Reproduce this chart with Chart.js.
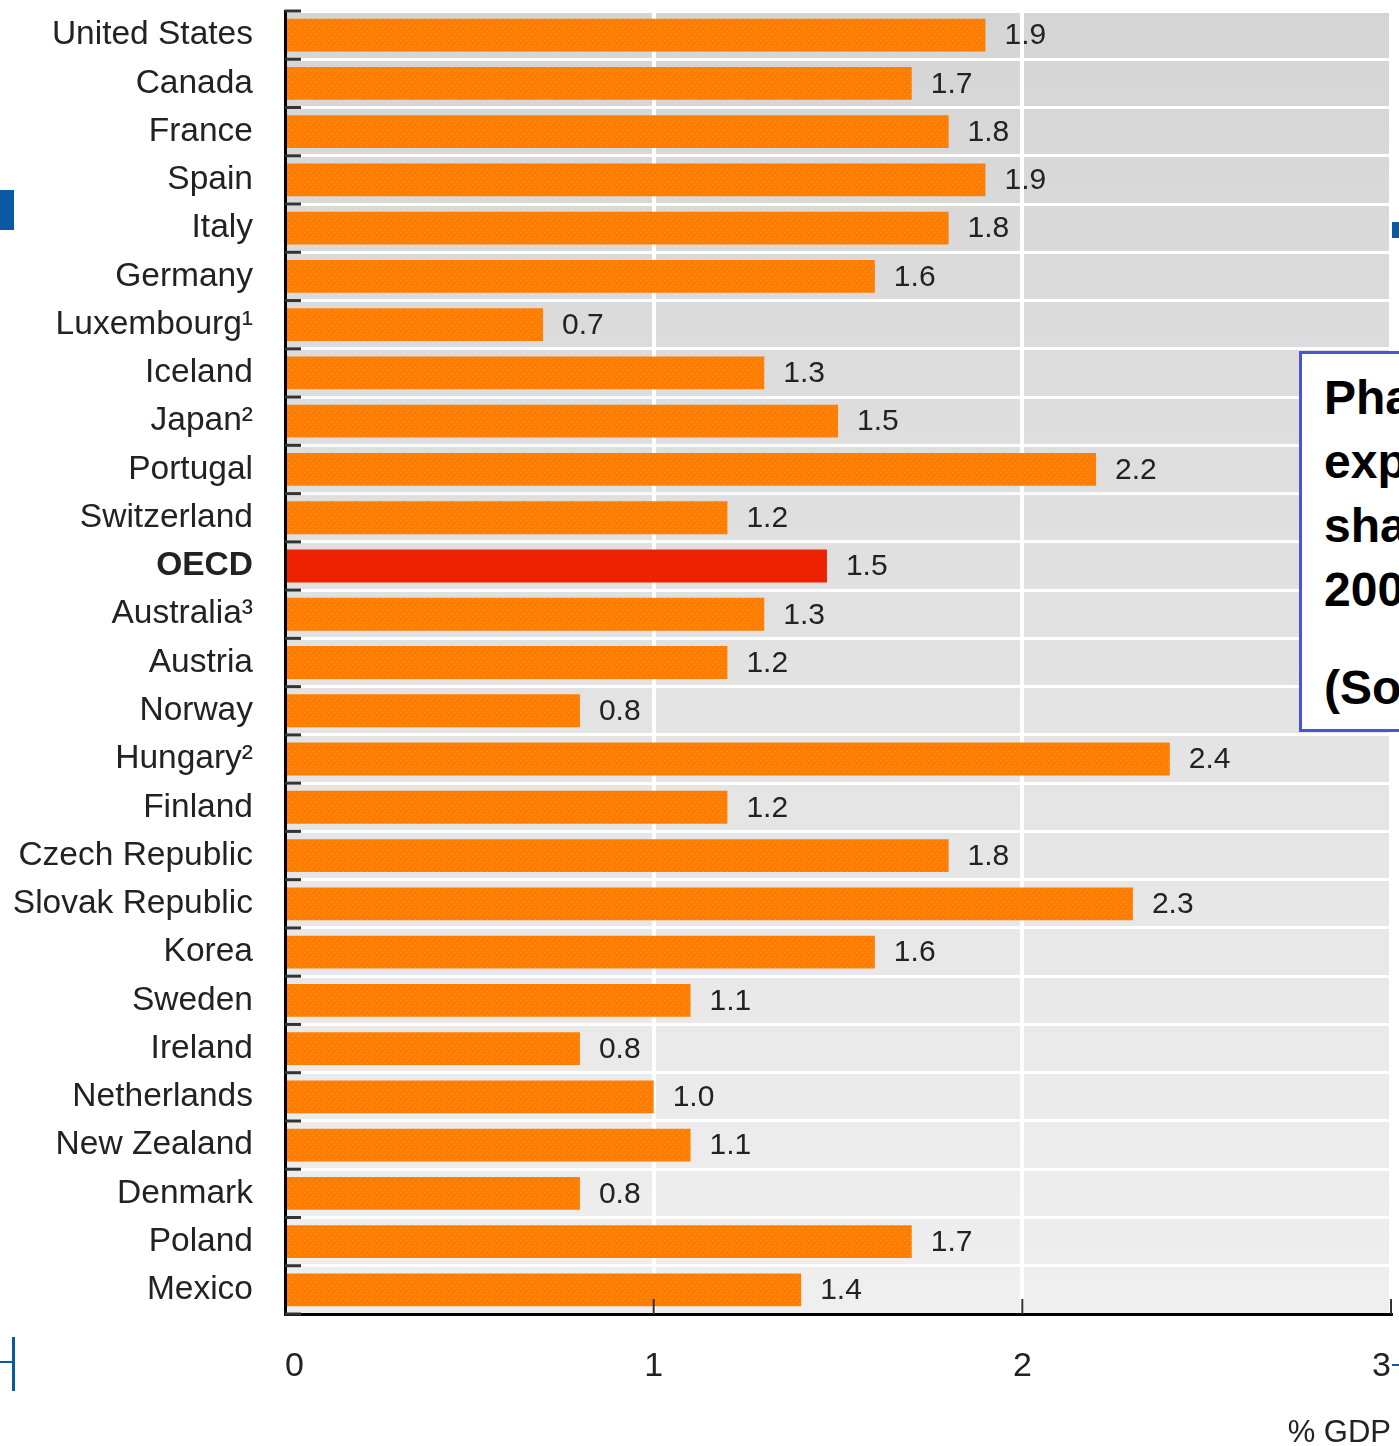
<!DOCTYPE html>
<html>
<head>
<meta charset="utf-8">
<title>Pharmaceutical expenditure as a share of GDP</title>
<script src="https://cdn.jsdelivr.net/npm/chart.js@4/dist/chart.umd.min.js"></script>
<style>
  html, body { margin: 0; padding: 0; background: #fff; overflow: hidden; }
  #wrap { position: relative; width: 1399px; height: 1446px; overflow: hidden; }
  #chart { position: absolute; left: 0; top: 0; }
  .note {
    position: absolute; left: 1299px; top: 351px; width: 320px; height: 381px;
    border: 3px solid #4b55d4; background: #fff; box-sizing: border-box;
    font-family: "Liberation Sans", Arial, sans-serif; font-weight: bold;
    font-size: 48px; line-height: 64px; color: #000; padding: 12px 0 0 22px;
    white-space: nowrap;
  }
  .note p { margin: 0; }
  .note .src { margin-top: 34px; }
  .deco { position: absolute; background: #0a5aa3; }
</style>
</head>
<body>
<div id="wrap">
  <canvas id="chart" width="1399" height="1446"></canvas>
  <div class="deco" style="left:0;top:190px;width:14px;height:40px"></div>
  <div class="deco" style="left:12px;top:1337px;width:3px;height:54px"></div>
  <div class="deco" style="left:0;top:1361px;width:13px;height:2px"></div>
  <div class="deco" style="left:1392px;top:222px;width:7px;height:16px"></div>
  <div class="deco" style="left:1392px;top:1364px;width:7px;height:2px"></div>
  <div class="note">
    <p>Pharmaceutical<br>expenditure as<br>share of GDP,<br>2005</p>
    <p class="src">(Source: OECD)</p>
  </div>
</div>
<script>
// Data
const countries = [
  "United States", "Canada", "France", "Spain", "Italy", "Germany",
  "Luxembourg¹", "Iceland", "Japan²", "Portugal", "Switzerland", "OECD",
  "Australia³", "Austria", "Norway", "Hungary²", "Finland", "Czech Republic",
  "Slovak Republic", "Korea", "Sweden", "Ireland", "Netherlands",
  "New Zealand", "Denmark", "Poland", "Mexico"
];
const shareGdp = [
  1.9, 1.7, 1.8, 1.9, 1.8, 1.6, 0.7, 1.3, 1.5, 2.2, 1.2, 1.47, 1.3, 1.2,
  0.8, 2.4, 1.2, 1.8, 2.3, 1.6, 1.1, 0.8, 1.0, 1.1, 0.8, 1.7, 1.4
];
const xTicks = [0, 1, 2, 3];
const highlight = "OECD";

const sans = '"Liberation Sans", Arial, sans-serif';

// dotted orange fill like the printed bars
function dottedFill() {
  const c = document.createElement("canvas");
  c.width = 6;
  c.height = 6;
  const g = c.getContext("2d");
  g.fillStyle = "#ff7d00";
  g.fillRect(0, 0, 6, 6);
  g.fillStyle = "#ff9a3a";
  g.fillRect(1, 1, 1, 1);
  g.fillRect(4, 4, 1, 1);
  return g.createPattern(c, "repeat");
}
const orange = dottedFill();

const panelBackground = {
  id: "panelBackground",
  beforeDraw(chart) {
    const { ctx, chartArea: a } = chart;
    const grad = ctx.createLinearGradient(0, a.top, 0, a.bottom);
    grad.addColorStop(0, "#d5d5d5");
    grad.addColorStop(1, "#efefef");
    ctx.save();
    ctx.fillStyle = grad;
    ctx.fillRect(a.left, a.top, a.right - a.left, a.bottom - a.top);
    ctx.restore();
  }
};

const innerTicks = {
  id: "innerTicks",
  afterDatasetsDraw(chart) {
    const { ctx, chartArea: a } = chart;
    const y = chart.scales.y;
    const x = chart.scales.x;
    ctx.save();
    ctx.strokeStyle = "#333";
    ctx.lineWidth = 3;
    for (let i = 0; i <= countries.length; i++) {
      const py = i === 0 ? a.top : (i === countries.length ? a.bottom :
        (y.getPixelForValue(i - 1) + y.getPixelForValue(i)) / 2);
      ctx.beginPath();
      ctx.moveTo(a.left, py);
      ctx.lineTo(a.left + 16, py);
      ctx.stroke();
    }
    ctx.lineWidth = 2;
    xTicks.slice(1).forEach(function (t) {
      const px = x.getPixelForValue(t);
      ctx.beginPath();
      ctx.moveTo(px, a.bottom);
      ctx.lineTo(px, a.bottom - 15);
      ctx.stroke();
    });
    ctx.restore();
  }
};

const valueLabels = {
  id: "valueLabels",
  afterDatasetsDraw(chart) {
    const { ctx } = chart;
    const meta = chart.getDatasetMeta(0);
    ctx.save();
    ctx.font = "30px " + sans;
    ctx.fillStyle = "#222";
    ctx.textAlign = "left";
    ctx.textBaseline = "middle";
    meta.data.forEach(function (bar, i) {
      ctx.fillText(shareGdp[i].toFixed(1), bar.x + 19, bar.y + 1);
    });
    ctx.restore();
  }
};

new Chart(document.getElementById("chart"), {
  type: "bar",
  data: {
    labels: countries,
    datasets: [{
      data: shareGdp,
      backgroundColor: countries.map(function (c) {
        return c === highlight ? "#ee2200" : orange;
      }),
      borderWidth: 0,
      barPercentage: 0.68,
      categoryPercentage: 1
    }]
  },
  options: {
    indexAxis: "y",
    responsive: false,
    animation: false,
    devicePixelRatio: 1,
    layout: { padding: { top: 11, right: 8, bottom: 0, left: 0 } },
    plugins: {
      legend: { display: false },
      tooltip: { enabled: false }
    },
    scales: {
      x: {
        min: 0,
        max: 3,
        afterBuildTicks: function (scale) {
          scale.ticks = xTicks.map(function (v) { return { value: v }; });
        },
        afterFit: function (scale) {
          scale.height = 132;
          scale.paddingLeft = 0;
          scale.paddingRight = 0;
        },
        grid: { color: "#ffffff", lineWidth: 4, drawTicks: false },
        border: { color: "#000", width: 3 },
        ticks: {
          padding: 32,
          align: "inner",
          color: "#222",
          font: { family: sans, size: 34 }
        },
        title: {
          display: true,
          text: "% GDP",
          align: "end",
          color: "#222",
          font: { family: sans, size: 31, lineHeight: 1 },
          padding: { top: 0, bottom: -3 }
        }
      },
      y: {
        afterFit: function (scale) {
          scale.width = 285;
          scale.paddingTop = 0;
          scale.paddingBottom = 0;
        },
        grid: { color: "#ffffff", lineWidth: 3, drawTicks: false, offset: true },
        border: { color: "#000", width: 3 },
        ticks: {
          padding: 32,
          color: "#222",
          font: function (ctx) {
            const bold = countries[ctx.index] === highlight;
            return { family: sans, size: 33.5, weight: bold ? "bold" : "normal" };
          }
        }
      }
    }
  },
  plugins: [panelBackground, innerTicks, valueLabels]
});
</script>
</body>
</html>
